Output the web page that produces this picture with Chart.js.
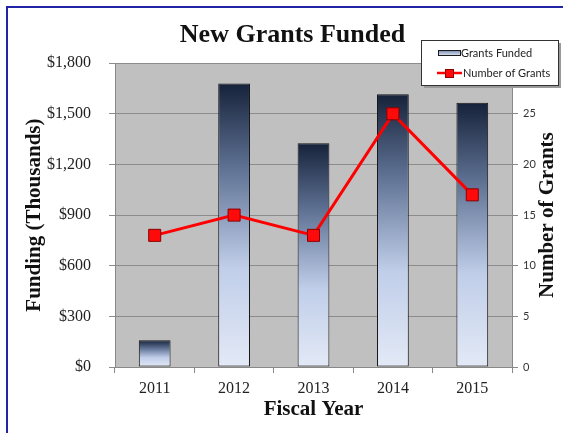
<!DOCTYPE html>
<html>
<head>
<meta charset="utf-8">
<script src="https://cdn.jsdelivr.net/npm/chart.js@4.4.1/dist/chart.umd.min.js"></script>
<style>
  html, body { margin: 0; padding: 0; background: #fff; overflow: hidden; }
  #frame { position: absolute; left: 6px; top: 6px; width: 700px; height: 600px; border-left: 2px solid #2323a8; border-top: 2px solid #2323a8; }
  #wrap { position: absolute; left: 0; top: 0; width: 563px; height: 433px; }
</style>
</head>
<body>
<div id="frame"></div>
<div id="wrap"><canvas id="grantsChart"></canvas></div>
<script>
// values
const years = ['2011', '2012', '2013', '2014', '2015'];
const funding = [158, 1680, 1326, 1616, 1565];     // $ thousands
const grantCounts = [13, 15, 13, 25, 17];

const SERIF = 'Liberation Serif';
const SANS = 'Lato';

// per-bar vertical gradient, dark navy top -> pale blue bottom
function barGradient(context) {
  const chart = context.chart;
  const yScale = chart.scales.y;
  if (!yScale || !context.parsed) return '#8fa3c4';
  const top = yScale.getPixelForValue(context.parsed.y);
  const bottom = yScale.getPixelForValue(0);
  if (!isFinite(top) || !isFinite(bottom) || top === bottom) return '#8fa3c4';
  const g = chart.ctx.createLinearGradient(0, top, 0, bottom);
  g.addColorStop(0, '#16223a');
  g.addColorStop(0.3, '#5f7294');
  g.addColorStop(0.65, '#c0cee9');
  g.addColorStop(1, '#e3e9f6');
  return g;
}

const plotBackground = {
  id: 'plotBackground',
  beforeDraw(chart) {
    const { ctx, chartArea: a } = chart;
    ctx.save();
    ctx.fillStyle = '#c0c0c0';
    ctx.fillRect(a.left, a.top, a.right - a.left, a.bottom - a.top);
    ctx.restore();
  }
};

// right axis title reads bottom-to-top like the left one
const rightTitle = {
  id: 'rightTitle',
  afterDraw(chart) {
    const { ctx, chartArea: a } = chart;
    ctx.save();
    ctx.translate(548, (a.top + a.bottom) / 2);
    ctx.rotate(-Math.PI / 2);
    ctx.font = 'bold 21px "' + SERIF + '"';
    ctx.fillStyle = '#111';
    ctx.textAlign = 'center';
    ctx.textBaseline = 'middle';
    ctx.fillText('Number of Grants', 0, 0);
    ctx.restore();
  }
};

// legend box sitting over the top-right corner
const boxLegend = {
  id: 'boxLegend',
  afterDraw(chart) {
    const ctx = chart.ctx;
    const x = 421, y = 40, w = 137, h = 45;
    const ds = chart.data.datasets;
    ctx.save();
    ctx.fillStyle = '#9a9a9a';
    ctx.fillRect(x + 3, y + 3, w, h);
    ctx.fillStyle = '#fff';
    ctx.fillRect(x, y, w, h);
    ctx.strokeStyle = '#333';
    ctx.lineWidth = 1;
    ctx.strokeRect(x + 0.5, y + 0.5, w, h);

    // bar swatch
    const g = ctx.createLinearGradient(0, 50, 0, 56);
    g.addColorStop(0, '#7185aa');
    g.addColorStop(1, '#e6ecf8');
    ctx.fillStyle = g;
    ctx.fillRect(438, 50.5, 22, 5);
    ctx.strokeStyle = '#1a1a1a';
    ctx.strokeRect(438.5, 50.5, 22, 5);

    // line swatch
    ctx.strokeStyle = ds[0].borderColor;
    ctx.lineWidth = 2.5;
    ctx.beginPath();
    ctx.moveTo(437, 73);
    ctx.lineTo(462, 73);
    ctx.stroke();
    ctx.fillStyle = ds[0].pointBackgroundColor;
    ctx.strokeStyle = ds[0].pointBorderColor;
    ctx.lineWidth = 1;
    ctx.fillRect(445, 69, 9, 9);
    ctx.strokeRect(445.5, 69.5, 8, 8);

    ctx.font = '11px "' + SANS + '"';
    ctx.fillStyle = '#222';
    ctx.textBaseline = 'middle';
    ctx.textAlign = 'left';
    ctx.fillText(ds[1].label, 461, 53);
    ctx.fillText(ds[0].label, 463, 73);
    ctx.restore();
  }
};

new Chart(document.getElementById('grantsChart'), {
  data: {
    labels: years,
    datasets: [
      {
        type: 'line',
        label: 'Number of Grants',
        data: grantCounts,
        yAxisID: 'y2',
        borderColor: '#ff0000',
        borderWidth: 3,
        pointStyle: 'rect',
        pointRadius: 8.5,
        pointBackgroundColor: '#ff0a0a',
        pointBorderColor: '#8a0000',
        pointBorderWidth: 1,
        tension: 0,
        order: 0
      },
      {
        type: 'bar',
        label: 'Grants Funded',
        data: funding,
        yAxisID: 'y',
        backgroundColor: barGradient,
        borderColor: '#151515',
        borderWidth: 1,
        borderSkipped: false,
        categoryPercentage: 1,
        barPercentage: 0.4,
        order: 1
      }
    ]
  },
  options: {
    responsive: true,
    maintainAspectRatio: false,
    animation: false,
    layout: { padding: { left: 22, right: 0, top: 0, bottom: 0 } },
    plugins: {
      legend: { display: false },
      tooltip: { enabled: false },
      title: {
        display: true,
        text: 'New Grants Funded',
        color: '#111',
        font: { family: SERIF, size: 26, weight: 'bold' },
        padding: { top: 20, bottom: 12 }
      }
    },
    scales: {
      x: {
        grid: { offset: true, drawOnChartArea: false, tickLength: 6, color: '#888' },
        border: { color: '#888' },
        ticks: { font: { family: SERIF, size: 16 }, color: '#222', padding: 6 },
        title: {
          display: true,
          text: 'Fiscal Year',
          color: '#111',
          font: { family: SERIF, size: 21, weight: 'bold' },
          padding: { top: 0, bottom: 11 }
        },
        afterFit(scale) { scale.height = 66; }
      },
      y: {
        position: 'left',
        min: 0,
        max: 1800,
        grid: { tickLength: 6, color: '#8c8c8c' },
        border: { color: '#888' },
        ticks: {
          stepSize: 300,
          padding: 18,
          color: '#222',
          font: { family: SERIF, size: 16 },
          callback: v => '$' + v.toLocaleString('en-US')
        },
        title: {
          display: true,
          text: 'Funding (Thousands)',
          color: '#111',
          font: { family: SERIF, size: 21, weight: 'bold' },
          padding: { top: 0, bottom: 0 }
        },
        afterFit(scale) { scale.width = 93; }
      },
      y2: {
        position: 'right',
        min: 0,
        max: 30,
        grid: { drawOnChartArea: false, tickLength: 6, color: '#888' },
        border: { color: '#888' },
        ticks: { stepSize: 5, padding: 5, color: '#333', font: { family: SANS, size: 11 } },
        afterFit(scale) { scale.width = 51; }
      }
    }
  },
  plugins: [plotBackground, rightTitle, boxLegend]
});
</script>
</body>
</html>
